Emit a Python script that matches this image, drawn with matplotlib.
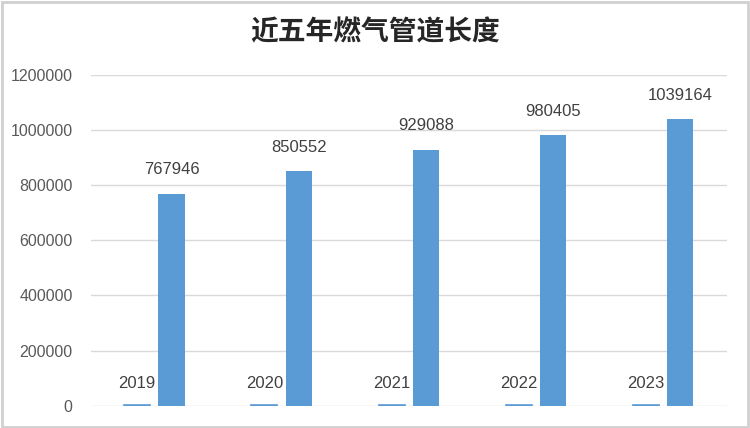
import numpy as np
import matplotlib
matplotlib.use('Agg')
import matplotlib.pyplot as plt
from matplotlib.patches import Rectangle

plt.rcParams['font.family'] = ['Liberation Sans', 'Noto Sans CJK SC', 'DejaVu Sans']

years = [2019, 2020, 2021, 2022, 2023]
lengths = [767946, 850552, 929088, 980405, 1039164]
yticks = [0, 200000, 400000, 600000, 800000, 1000000, 1200000]

blue = '#5b9bd5'

fig = plt.figure(figsize=(7.5, 4.28), dpi=100)
ax = fig.add_axes([0.121, 0.052, 0.848, 0.773])

x = np.arange(len(years))
w = 0.205
b1 = ax.bar(x - 0.135, years, w, color=blue, edgecolor=blue, linewidth=1.2)
b2 = ax.bar(x + 0.135, lengths, w, color=blue)
ax.bar_label(b1, labels=[str(v) for v in years], padding=10, fontsize=12, color='#404040')
ax.bar_label(b2, labels=[str(v) for v in lengths], padding=12, fontsize=12, color='#404040')

ax.set_xlim(-0.5, len(years) - 0.5)
ax.set_ylim(0, 1200000)
ax.set_yticks(yticks)
ax.set_yticklabels([str(v) for v in yticks], fontsize=11.5, color='#595959')
ax.set_xticks([])
ax.tick_params(axis='y', length=0, pad=13)
ax.grid(axis='y', color='#d9d9d9', linewidth=1)
ax.set_axisbelow(True)
for s in ax.spines.values():
    s.set_visible(False)

fig.text(0.5, 0.925, '近五年燃气管道长度', ha='center', va='center', fontsize=20,
         family=['Noto Sans CJK SC'], weight='semibold', color='#262626')

fig.patches.append(Rectangle((0.002, 0.003), 0.995, 0.993, transform=fig.transFigure,
                             fill=False, edgecolor='#d0d0d0', linewidth=2))

fig.savefig('out.png', dpi=100)
